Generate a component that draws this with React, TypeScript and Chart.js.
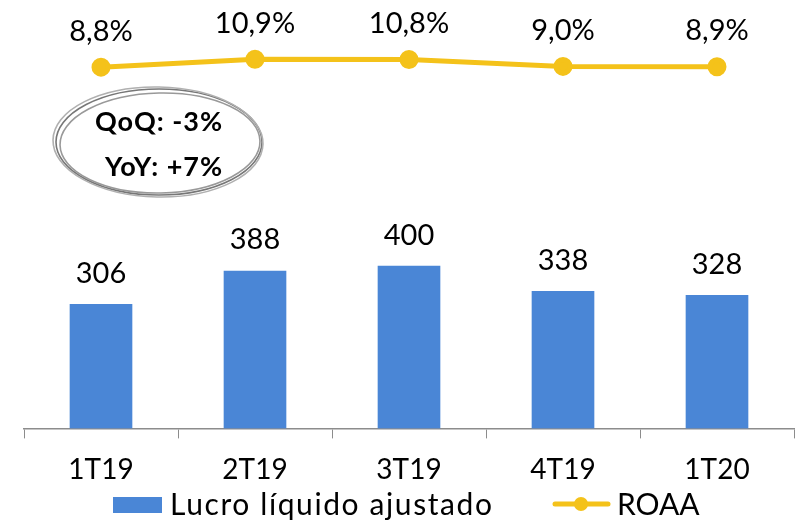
import React, { useEffect, useRef } from "react";
import { Chart, registerables } from "chart.js";

Chart.register(...registerables);

const categories = ["1T19", "2T19", "3T19", "4T19", "1T20"];
const lucro = [306, 388, 400, 338, 328];
const roaa = [8.8, 10.9, 10.8, 9.0, 8.9];
const roaaLabels = ["8,8%", "10,9%", "10,8%", "9,0%", "8,9%"];
const noteLines = ["QoQ: -3%", "YoY: +7%"];
const legendLabels = ["Lucro líquido ajustado", "ROAA"];

const BLUE = "#4a86d6";
const GOLD = "#f4c21a";
const FONT = "Lato, 'Open Sans', sans-serif";

const overlay = {
  id: "overlay",
  afterDatasetsDraw(chart: any) {
    const ctx = chart.ctx;
    ctx.save();
    ctx.fillStyle = "#000";
    ctx.textAlign = "center";
    ctx.textBaseline = "middle";
    ctx.font = `29px ${FONT}`;
    const bars = chart.getDatasetMeta(0).data;
    bars.forEach((b: any, i: number) => {
      ctx.fillText(String(lucro[i]), b.x, b.y - 31);
    });
    const pts = chart.getDatasetMeta(1).data;
    pts.forEach((p: any, i: number) => {
      ctx.fillText(roaaLabels[i], p.x, p.y - 36);
    });

    // ellipse note
    const cx = 159, cy = 142;
    ctx.lineWidth = 1.6;
    ctx.strokeStyle = "#777";
    ctx.beginPath();
    ctx.ellipse(cx, cy, 103, 53, 0, 0, Math.PI * 2);
    ctx.stroke();
    ctx.strokeStyle = "#999";
    ctx.beginPath();
    ctx.ellipse(cx + 1, cy + 1, 100, 50, -0.02, 0, Math.PI * 2);
    ctx.stroke();
    ctx.strokeStyle = "#b0b0b0";
    ctx.beginPath();
    ctx.ellipse(cx - 1, cy, 105, 55, 0.02, 0, Math.PI * 2);
    ctx.stroke();
    ctx.fillStyle = "#000";
    ctx.font = `bold 27px ${FONT}`;
    (ctx as any).letterSpacing = "1px";
    ctx.fillText(noteLines[0], 159, 122);
    ctx.fillText(noteLines[1], 164, 167);

    // legend
    ctx.fillStyle = BLUE;
    ctx.fillRect(113, 497, 49, 16);
    ctx.fillStyle = "#000";
    ctx.font = `30px ${FONT}`;
    (ctx as any).letterSpacing = "1.6px";
    ctx.textAlign = "left";
    ctx.fillText(legendLabels[0], 170, 505);
    (ctx as any).letterSpacing = "0px";
    ctx.strokeStyle = GOLD;
    ctx.lineWidth = 5;
    ctx.lineCap = "round";
    ctx.beginPath();
    ctx.moveTo(555, 504);
    ctx.lineTo(608, 504);
    ctx.stroke();
    ctx.fillStyle = GOLD;
    ctx.beginPath();
    ctx.arc(581, 504, 7, 0, Math.PI * 2);
    ctx.fill();
    ctx.fillStyle = "#000";
    ctx.fillText(legendLabels[1], 617, 505);
    ctx.restore();
  },
};

export default function App() {
  const ref = useRef<HTMLCanvasElement>(null);
  useEffect(() => {
    const chart = new Chart(ref.current!, {
      type: "bar",
      data: {
        labels: categories,
        datasets: [
          {
            type: "bar",
            label: legendLabels[0],
            data: lucro,
            backgroundColor: BLUE,
            barThickness: 62,
            yAxisID: "y",
            order: 2,
          },
          {
            type: "line",
            label: legendLabels[1],
            data: roaa,
            borderColor: GOLD,
            backgroundColor: GOLD,
            borderWidth: 5,
            pointRadius: 7,
            pointHoverRadius: 7,
            yAxisID: "y2",
            order: 1,
          } as any,
        ],
      },
      options: {
        animation: false,
        responsive: false,
        maintainAspectRatio: false,
        layout: { padding: { left: 24, right: 14, top: 20, bottom: 20 } },
        plugins: { legend: { display: false }, tooltip: { enabled: false } },
        scales: {
          x: {
            offset: true,
            grid: {
              offset: true,
              drawOnChartArea: false,
              drawTicks: true,
              tickLength: 10,
              color: "#8c8c8c",
            },
            border: { color: "#8c8c8c", width: 1.5 },
            ticks: { color: "#000", font: { size: 28, family: FONT }, padding: 15 },
          },
          y: { display: false, min: 0, max: 1007 },
          y2: { display: false, min: -86.2, max: 21.2 },
        },
      },
      plugins: [overlay],
    });
    return () => chart.destroy();
  }, []);
  return (
    <div style={{ position: "fixed", left: 0, top: 0, width: 808, height: 522, background: "#fff" }}>
      <canvas ref={ref} width={808} height={522} style={{ width: 808, height: 522 }} />
    </div>
  );
}
